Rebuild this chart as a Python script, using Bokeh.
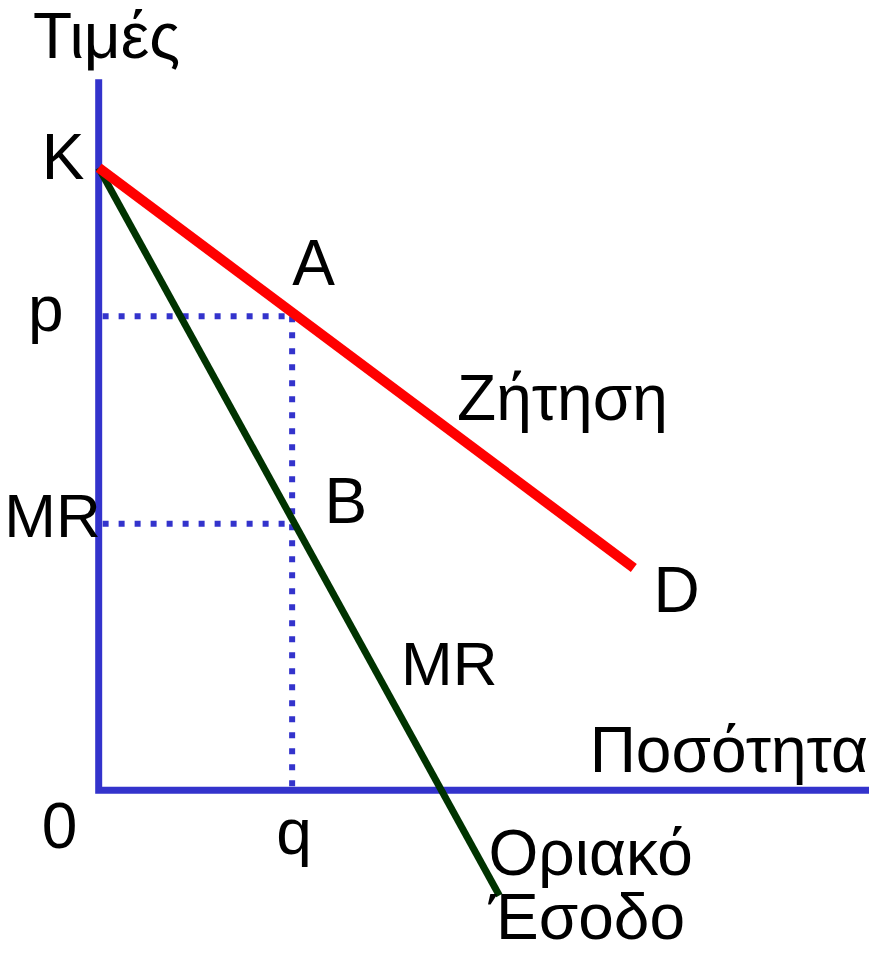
from bokeh.plotting import figure
from bokeh.models import Range1d
from bokeh.core.properties import value
from bokeh.embed import file_html
from bokeh.resources import INLINE

# Data (price/quantity units)
price_K = 633          # intercept of demand & MR
price_p = 482          # price at q
price_MR = 271         # marginal revenue at q
qty_q = 197            # chosen quantity
demand_end = (545, 226)   # end of demand line (D)
mr_end = (408, -107)      # end of MR line
axis_top = 723
axis_right = 790

FONT = value("Liberation Sans")
FS = "64px"
FS_MR = "62px"
BASE_FIX = 26   # renderer places alphabetic baseline lower; compensate

p = figure(width=869, height=956, output_backend="svg", toolbar_location=None,
           x_range=Range1d(-100, 785), y_range=Range1d(-169, 803), min_border=0)
p.axis.visible = False
p.grid.visible = False
p.outline_line_color = None
p.background_fill_color = None
p.border_fill_color = "white"

blue = "#3333CC"
# axes
p.line([0, 0, axis_right], [axis_top, 0, 0], line_color=blue, line_width=7, line_join="miter")

# dotted guides
dot = dict(line_color=blue, line_width=6, line_dash="6 10", line_cap="butt")
p.line([4, qty_q + 12], [price_p, price_p], **dot)
p.line([4, qty_q], [price_MR, price_MR], **dot)
p.line([qty_q, qty_q], [price_p, 4], **dot)

# MR line
p.line([0, mr_end[0]], [price_K, mr_end[1]], line_color="#003300", line_width=7)
# Demand
p.line([0, demand_end[0]], [price_K, demand_end[1]], line_color="#FF0000", line_width=10)

def lab(x, y, t, align="left", size=FS):
    p.text(x=[x], y=[y + BASE_FIX], text=[t], text_font=FONT, text_font_size=size,
           text_color="black", text_align=align, text_baseline="alphabetic")

lab(-67, 741, "Τιμές")
lab(-58, price_K - 15, "K")
lab(-72, price_p - 19, "p")
lab(qty_q, price_p + 28, "A")
lab(365, 373, "Ζήτηση")
lab(2, price_MR - 18, "MR", align="right", size=FS_MR)
lab(qty_q + 33, price_MR - 3, "B")
lab(demand_end[0] + 20, demand_end[1] - 48, "D")
lab(308, 103, "MR", size=FS_MR)
lab(500, 15, "Ποσότητα")
lab(-58, -62, "0")
lab(qty_q + 2, -68, "q", align="center")
lab(397, -90, "Οριακό")
lab(397, -155, "Έσοδο")

open("out.html", "w").write(file_html(p, INLINE))
